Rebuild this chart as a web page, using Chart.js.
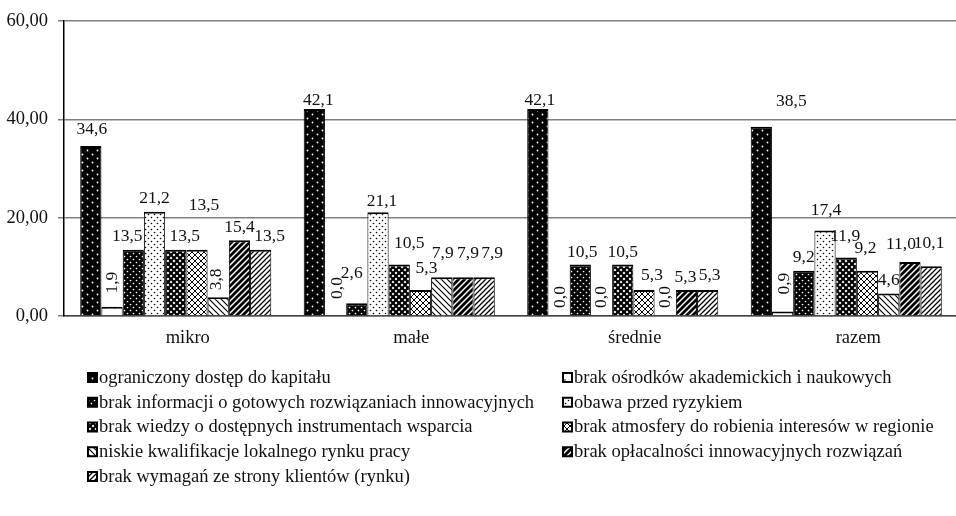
<!DOCTYPE html>
<html>
<head>
<meta charset="utf-8">
<script src="https://cdn.jsdelivr.net/npm/chart.js@4"></script>
<style>
  html, body { margin: 0; padding: 0; background: #fff; overflow: hidden; }
  #wrap { width: 958px; height: 516px; }
</style>
</head>
<body>
<div id="wrap"><canvas id="barrierChart"></canvas></div>
<script>
// data
var categories = ['mikro', 'małe', 'średnie', 'razem'];
var seriesNames = [
    'ograniczony dostęp do kapitału',
    'brak ośrodków akademickich i naukowych',
    'brak informacji o gotowych rozwiązaniach innowacyjnych',
    'obawa przed ryzykiem',
    'brak wiedzy o dostępnych instrumentach wsparcia',
    'brak atmosfery do robienia interesów w regionie',
    'niskie kwalifikacje lokalnego rynku pracy',
    'brak opłacalności innowacyjnych rozwiązań',
    'brak wymagań ze strony klientów (rynku)'
];
var kapital = [34.6, 42.1, 42.1, 38.5];
var osrodki = [1.9, 0.0, 0.0, 0.9];
var informacja = [13.5, 2.6, 10.5, 9.2];
var ryzyko = [21.2, 21.1, 0.0, 17.4];
var wiedza = [13.5, 10.5, 10.5, 11.9];
var atmosfera = [13.5, 5.3, 5.3, 9.2];
var kwalifikacje = [3.8, 7.9, 0.0, 4.6];
var oplacalnosc = [15.4, 7.9, 5.3, 11.0];
var wymagania = [13.5, 7.9, 5.3, 10.1];
var seriesValues = [kapital, osrodki, informacja, ryzyko, wiedza, atmosfera, kwalifikacje, oplacalnosc, wymagania];
var yTicks = [0, 20, 40, 60];

// label placement tweaks ("category-series": [dx, dy]) and rotated labels
var rotatedLabels = ['0-1', '1-1', '2-1', '3-1', '0-6', '2-3', '2-6'];
var labelNudges = {
    '0-0': [1, -4], '0-1': [0, -2], '0-2': [-6, 0], '0-4': [9, 0], '0-5': [7, -31],
    '0-6': [-2, 4], '0-8': [9, 0],
    '1-0': [4, 4], '1-1': [2, -6], '1-2': [-5, -17], '1-3': [4, 2], '1-4': [10, -8],
    '1-5': [6, -9], '1-6': [1, -11], '1-7': [5, -11], '1-8': [8, -11],
    '2-0': [2, 4], '2-1': [1, 3], '2-2': [2, 1], '2-3': [0, 3], '2-4': [0, 1],
    '2-5': [8, -2], '2-6': [0, 3], '2-7': [-1, 0], '2-8': [2, -2],
    '3-0': [30, -12], '3-1': [2, -6], '3-3': [1, -7], '3-4': [-1, -8], '3-5': [-2, -9],
    '3-7': [-9, -5], '3-8': [-2, -10]
};

var FONT = "'Liberation Serif', 'Times New Roman', serif";
var FONT_SIZE = 18.5;
var LABEL_SIZE = 17.5;

// hatch patterns
function makePattern(w, h, paint) {
    var c = document.createElement('canvas');
    c.width = w;
    c.height = h;
    var g = c.getContext('2d');
    paint(g, w, h);
    return g.createPattern(c, 'repeat');
}

function dots(g, color, pts, r) {
    g.fillStyle = color;
    pts.forEach(function(p) {
        g.beginPath();
        g.arc(p[0], p[1], r, 0, Math.PI * 2);
        g.fill();
    });
}

function diag(g, w, color, lw, up) {
    g.strokeStyle = color;
    g.lineWidth = lw;
    g.beginPath();
    if (up) {
        g.moveTo(0, w); g.lineTo(w, 0);
        g.moveTo(-1, 1); g.lineTo(1, -1);
        g.moveTo(w - 1, w + 1); g.lineTo(w + 1, w - 1);
    } else {
        g.moveTo(0, 0); g.lineTo(w, w);
        g.moveTo(-1, w - 1); g.lineTo(1, w + 1);
        g.moveTo(w - 1, -1); g.lineTo(w + 1, 1);
    }
    g.stroke();
}

var patterns = [
    makePattern(10, 8, function(g, w, h) {
        g.fillStyle = '#000'; g.fillRect(0, 0, w, h);
        dots(g, '#fff', [[2.5, 2.5], [7.5, 6.5]], 0.9);
    }),
    makePattern(10, 8, function(g, w, h) {
        g.fillStyle = '#fff'; g.fillRect(0, 0, w, h);
        dots(g, '#000', [[5, 4]], 0.8);
    }),
    makePattern(6, 6, function(g, w, h) {
        g.fillStyle = '#000'; g.fillRect(0, 0, w, h);
        dots(g, '#fff', [[1.5, 1.5], [4.5, 4.5]], 0.85);
    }),
    makePattern(6, 6, function(g, w, h) {
        g.fillStyle = '#fff'; g.fillRect(0, 0, w, h);
        dots(g, '#000', [[1.5, 1.5], [4.5, 4.5]], 0.8);
    }),
    makePattern(6, 6, function(g, w, h) {
        g.fillStyle = '#fff'; g.fillRect(0, 0, w, h);
        diag(g, w, '#000', 2.2, true);
        diag(g, w, '#000', 2.2, false);
    }),
    makePattern(6, 6, function(g, w, h) {
        g.fillStyle = '#fff'; g.fillRect(0, 0, w, h);
        diag(g, w, '#000', 1, true);
        diag(g, w, '#000', 1, false);
    }),
    makePattern(6, 6, function(g, w, h) {
        g.fillStyle = '#fff'; g.fillRect(0, 0, w, h);
        diag(g, w, '#000', 1.2, false);
    }),
    makePattern(6, 6, function(g, w, h) {
        g.fillStyle = '#fff'; g.fillRect(0, 0, w, h);
        diag(g, w, '#000', 2.8, true);
    }),
    makePattern(5, 5, function(g, w, h) {
        g.fillStyle = '#fff'; g.fillRect(0, 0, w, h);
        diag(g, w, '#000', 1.3, true);
    })
];

function formatComma(v, digits) {
    return v.toFixed(digits).replace('.', ',');
}

// value labels above the bars
var valueLabels = {
    id: 'valueLabels',
    afterDatasetsDraw: function(chart) {
        var ctx = chart.ctx;
        ctx.save();
        ctx.font = LABEL_SIZE + 'px ' + FONT;
        ctx.fillStyle = '#111';
        ctx.textAlign = 'center';
        ctx.textBaseline = 'middle';
        chart.data.datasets.forEach(function(ds, si) {
            var meta = chart.getDatasetMeta(si);
            meta.data.forEach(function(bar, ci) {
                var key = ci + '-' + si;
                var nudge = labelNudges[key] || [0, 0];
                var text = formatComma(ds.data[ci], 1);
                var x = bar.x + nudge[0];
                if (rotatedLabels.indexOf(key) >= 0) {
                    var y = bar.y - 22 + nudge[1];
                    ctx.save();
                    ctx.translate(x, y);
                    ctx.rotate(-Math.PI / 2);
                    ctx.fillText(text, 0, 0);
                    ctx.restore();
                } else {
                    ctx.fillText(text, x, bar.y - 13 + nudge[1]);
                }
            });
        });
        ctx.restore();
    }
};

// two column legend under the plot
var columnLegend = {
    id: 'columnLegend',
    afterDraw: function(chart) {
        var ctx = chart.ctx;
        ctx.save();
        ctx.font = FONT_SIZE + 'px ' + FONT;
        ctx.textBaseline = 'middle';
        chart.data.datasets.forEach(function(ds, i) {
            var left = (i % 2 == 0) ? 88 : 563;
            var y = 378 + Math.floor(i / 2) * 24.75;
            ctx.fillStyle = ds.backgroundColor;
            ctx.fillRect(left, y - 5, 9, 9);
            ctx.strokeStyle = '#000';
            ctx.lineWidth = 2;
            ctx.strokeRect(left, y - 5, 9, 9);
            ctx.fillStyle = '#111';
            ctx.fillText(ds.label, left + 11, y);
        });
        ctx.restore();
    }
};

var datasets = seriesValues.map(function(vals, i) {
    return {
        label: seriesNames[i],
        data: vals,
        backgroundColor: patterns[i],
        borderColor: '#000',
        borderWidth: { top: 2, left: 1, right: 1, bottom: 0 },
        borderSkipped: false,
        categoryPercentage: 0.855,
        barPercentage: 1.0
    };
});

Chart.defaults.font.family = FONT;
Chart.defaults.font.size = FONT_SIZE;
Chart.defaults.color = '#111';

var ctx = document.getElementById('barrierChart');
var myBarChart = new Chart(ctx, {
    type: 'bar',
    data: {
        labels: categories,
        datasets: datasets
    },
    options: {
        responsive: true,
        maintainAspectRatio: false,
        animation: false,
        layout: { padding: { top: 17, right: 0, bottom: 160, left: 0 } },
        plugins: {
            legend: { display: false },
            tooltip: { enabled: false }
        },
        scales: {
            x: {
                grid: { display: false, drawTicks: false },
                border: { display: true, color: '#444', width: 1.5 },
                ticks: { padding: 11, labelOffset: 12 },
                afterFit: function(scale) { scale.height = 40; }
            },
            y: {
                min: 0,
                max: 60,
                afterBuildTicks: function(scale) {
                    scale.ticks = yTicks.map(function(v) { return { value: v }; });
                },
                grid: { color: '#808080', lineWidth: 1.5, drawTicks: true, tickLength: 6, tickColor: '#808080' },
                border: { display: true, color: '#000', width: 1.5 },
                ticks: {
                    padding: 10,
                    callback: function(value) { return formatComma(value, 2); }
                },
                afterFit: function(scale) { scale.width = 64; }
            }
        }
    },
    plugins: [valueLabels, columnLegend]
});
</script>
</body>
</html>
